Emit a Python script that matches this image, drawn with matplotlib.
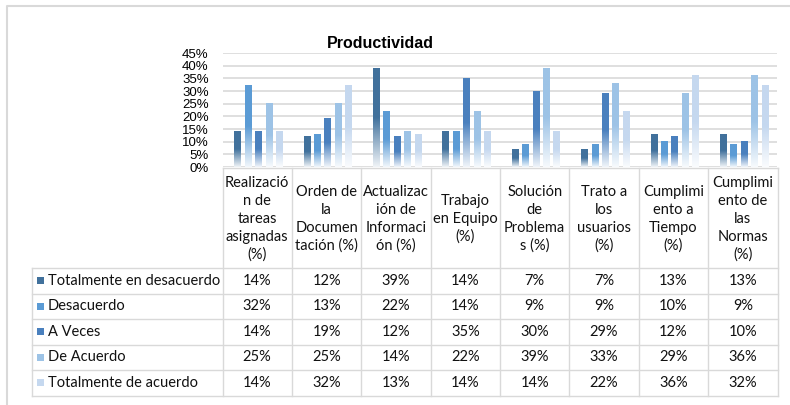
import numpy as np
import matplotlib.pyplot as plt
from matplotlib.colors import LinearSegmentedColormap, to_rgb

categories = ["Realizació\nn de\ntareas\nasignadas\n(%)",
              "Orden de\nla\nDocumen\ntación (%)",
              "Actualizac\nión de\nInformaci\nón (%)",
              "Trabajo\nen Equipo\n(%)",
              "Solución\nde\nProblema\ns (%)",
              "Trato a\nlos\nusuarios\n(%)",
              "Cumplimi\nento a\nTiempo\n(%)",
              "Cumplimi\nento de\nlas\nNormas\n(%)"]
series_names = ["Totalmente en desacuerdo", "Desacuerdo", "A Veces",
                "De Acuerdo", "Totalmente de acuerdo"]
tot_desacuerdo = [14, 12, 39, 14, 7, 7, 13, 13]
desacuerdo = [32, 13, 22, 14, 9, 9, 10, 9]
a_veces = [14, 19, 12, 35, 30, 29, 12, 10]
de_acuerdo = [25, 25, 14, 22, 39, 33, 29, 36]
tot_acuerdo = [14, 32, 13, 14, 14, 22, 36, 32]
values = [tot_desacuerdo, desacuerdo, a_veces, de_acuerdo, tot_acuerdo]
colors = ["#41719C", "#5B9BD5", "#4A80BE", "#9DC3E6", "#C5D8EF"]

W, H = 790, 405
fig = plt.figure(figsize=(W / 100, H / 100), dpi=100)

# background axes in pixel coordinates for frame and data table
bg = fig.add_axes([0, 0, 1, 1])
bg.set_xlim(0, W)
bg.set_ylim(H, 0)
bg.axis('off')

line_c = '#d9d9d9'
bg.plot([7, 7, W], [H, 6, 6], color=line_c, lw=1.5)

# plot area
x0, x1, y_top, y_bot = 222.5, 777.5, 53, 167
ax = fig.add_axes([x0 / W, 1 - y_bot / H, (x1 - x0) / W, (y_bot - y_top) / H])
ax.set_facecolor('none')

n = len(categories)
x = np.arange(n)
grad = np.linspace(0, 1, 256).reshape(-1, 1)
for i, (vals, col) in enumerate(zip(values, colors)):
    rgb = np.array(to_rgb(col))
    light = rgb + (1 - rgb) * 0.92
    cmap = LinearSegmentedColormap.from_list('g%d' % i, [(0, light), (0.5, col), (1, col)])
    bars = ax.bar(x + (i - 2) * 0.15 + 0.02, np.array(vals) / 100, width=0.1,
                  color='none', edgecolor='none', zorder=2)
    for b in bars:
        bx, bw, bh = b.get_x(), b.get_width(), b.get_height()
        ax.imshow(grad, extent=(bx, bx + bw, 0, bh), origin='lower',
                  aspect='auto', cmap=cmap, zorder=2)

ax.set_xlim(-0.5, n - 0.5)
ax.set_ylim(0, 0.45)
ax.set_yticks(np.arange(0, 0.451, 0.05))
ax.set_yticklabels(['%d%%' % v for v in range(0, 46, 5)],
                   fontsize=9.5, family='Liberation Sans')
ax.tick_params(axis='y', length=0, pad=10)
ax.set_xticks([])
ax.grid(axis='y', color=line_c, lw=1.2, zorder=0)
for s in ax.spines.values():
    s.set_visible(False)

fig.text(380 / W, 1 - 44 / H, 'Productividad', ha='center', va='center',
         fontsize=11.5, fontweight='bold', family='Liberation Sans')

# data table
cols = np.linspace(x0, x1, n + 1)
rows = [268, 293.5, 319, 344.5, 370, 395.5]
head_top = 168
tfont = dict(family='Lato', fontsize=10.5, color='#111111')

bg.plot([x0, x1], [head_top, head_top], color=line_c, lw=1)
for c in cols:
    bg.plot([c, c], [head_top, rows[-1]], color=line_c, lw=1)
bg.plot([32, 32], [rows[0], rows[-1]], color=line_c, lw=1)
for r in rows:
    bg.plot([32, x1], [r, r], color=line_c, lw=1)

for j, lab in enumerate(categories):
    bg.text((cols[j] + cols[j + 1]) / 2, (head_top + rows[0]) / 2 + 1, lab,
            ha='center', va='center', multialignment='center',
            linespacing=1.36, **tfont)

for i, (name, vals, col) in enumerate(zip(series_names, values, colors)):
    yc = (rows[i] + rows[i + 1]) / 2
    bg.add_patch(plt.Rectangle((37, yc - 3.5), 7, 7, color=col, lw=0))
    bg.text(48, yc, name, ha='left', va='center', **tfont)
    for j, v in enumerate(vals):
        bg.text((cols[j] + cols[j + 1]) / 2, yc, '%d%%' % v,
                ha='center', va='center', **tfont)

fig.savefig('out.png', dpi=100)
